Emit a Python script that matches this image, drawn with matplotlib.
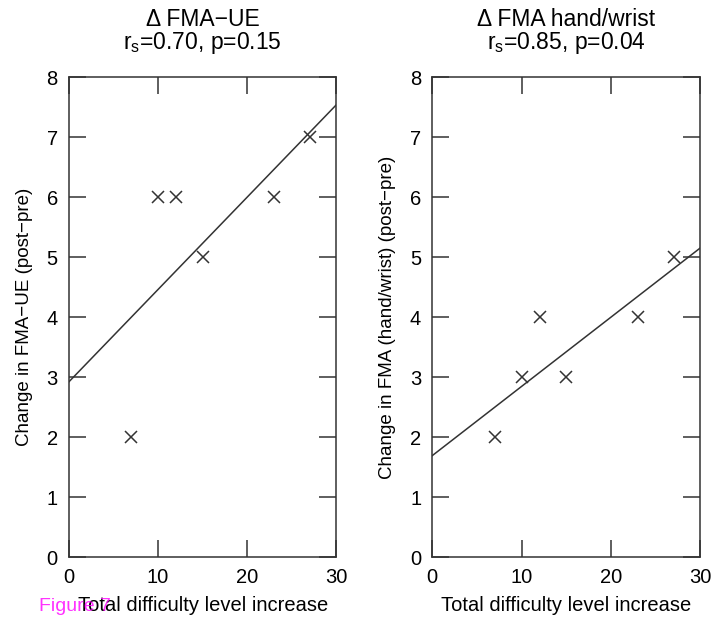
import numpy as np
import matplotlib.pyplot as plt

plt.rcParams['font.family'] = ['Liberation Sans', 'DejaVu Sans']
plt.rcParams['mathtext.fontset'] = 'custom'
plt.rcParams['mathtext.rm'] = 'Liberation Sans'
plt.rcParams['mathtext.it'] = 'Liberation Sans'

difficulty = [7, 10, 12, 15, 23, 27]
fma_ue = [2, 6, 6, 5, 6, 7]
fma_hand = [2, 3, 4, 3, 4, 5]

titles = ["\u0394 FMA\u2212UE\nr$_\\mathregular{s}$=0.70, p=0.15",
          "\u0394 FMA hand/wrist\nr$_\\mathregular{s}$=0.85, p=0.04"]
ylabels = ["Change in FMA\u2212UE (post\u2212pre)",
           "Change in FMA (hand/wrist) (post\u2212pre)"]

fig = plt.figure(figsize=(7.11, 6.17), dpi=100)
axes = [fig.add_axes([0.097, 0.097, 0.376, 0.778]),
        fig.add_axes([0.608, 0.097, 0.377, 0.778])]

ink = '#333333'
for ax, yvals, title, ylab in zip(axes, [fma_ue, fma_hand], titles, ylabels):
    ax.plot(difficulty, yvals, 'x', color=ink, markersize=8, mew=1.1)
    slope, icpt = np.polyfit(difficulty, yvals, 1)
    xs = np.array([0, 30])
    ax.plot(xs, icpt + slope * xs, color=ink, lw=1.1)
    ax.set_xlim(0, 30)
    ax.set_ylim(0, 8)
    ax.set_xticks([0, 10, 20, 30])
    ax.set_yticks(range(0, 9))
    ax.tick_params(direction='in', length=12, width=1.1, top=True, right=True,
                   labelsize=14.5, color=ink, pad=8)
    for s in ax.spines.values():
        s.set_linewidth(1.1)
        s.set_color(ink)
    ax.set_xlabel("Total difficulty level increase", fontsize=14.5, labelpad=6)
    ax.set_ylabel(ylab, fontsize=13.5, labelpad=10)
    ax.set_title(title, fontsize=16.5, linespacing=0.95, pad=20)

fig.text(0.055, 0.01, "Figure 7", color='magenta', fontsize=14, alpha=0.8)

fig.savefig("out.png", dpi=100)
